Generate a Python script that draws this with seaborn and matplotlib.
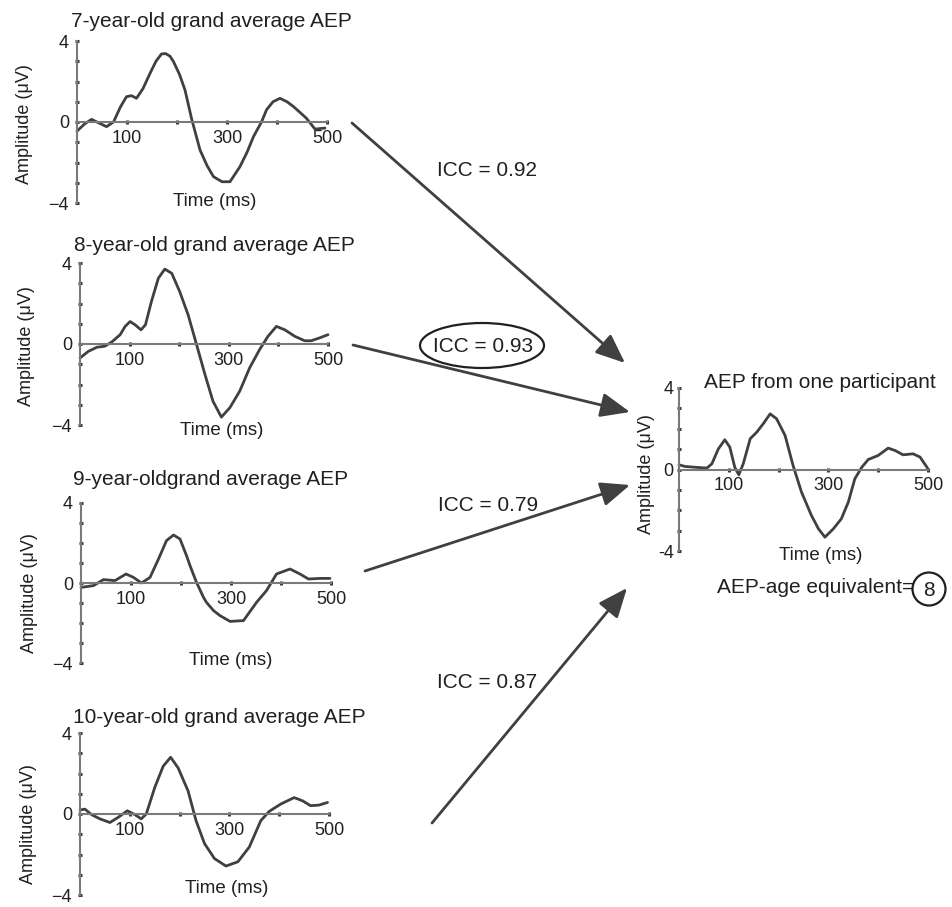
import numpy as np
import pandas as pd
import matplotlib
matplotlib.use("Agg")
import matplotlib.pyplot as plt
import seaborn as sns
from matplotlib.patches import FancyArrowPatch, Ellipse, ArrowStyle

# ---------------- data ----------------
t7 = [0, 15, 29, 44, 59, 73, 87, 99, 109, 119, 132, 146, 158, 169, 177, 186, 193, 205, 216, 229, 246, 260, 273, 290, 306, 326, 340, 353, 369, 379, 392, 406, 420, 433, 447, 459, 476, 496]
v7 = [-0.45, -0.1, 0.13, -0.05, -0.23, 0.0, 0.75, 1.25, 1.3, 1.17, 1.65, 2.4, 3.0, 3.36, 3.38, 3.25, 2.98, 2.35, 1.58, 0.18, -1.38, -2.15, -2.7, -2.95, -2.95, -2.2, -1.5, -0.72, 0.0, 0.6, 1.0, 1.17, 1.0, 0.76, 0.45, 0.18, -0.35, -0.3]

t8 = [0, 17, 34, 50, 64, 81, 91, 101, 111, 123, 132, 144, 158, 171, 185, 201, 218, 235, 252, 268, 285, 302, 322, 342, 362, 379, 396, 413, 433, 453, 466, 483, 500]
v8 = [-0.69, -0.36, -0.16, -0.11, 0.1, 0.46, 0.87, 1.11, 0.95, 0.7, 0.95, 2.1, 3.25, 3.7, 3.49, 2.59, 1.44, -0.03, -1.51, -2.82, -3.61, -3.15, -2.33, -1.18, -0.28, 0.38, 0.87, 0.7, 0.38, 0.16, 0.16, 0.3, 0.46]

t9 = [0, 25, 45, 68, 90, 105, 121, 138, 155, 171, 185, 198, 211, 218, 231, 245, 251, 265, 278, 298, 325, 351, 371, 391, 418, 438, 455, 478, 498]
v9 = [-0.22, -0.13, 0.17, 0.12, 0.45, 0.28, 0.0, 0.28, 1.2, 2.12, 2.4, 2.2, 1.37, 0.87, 0.03, -0.72, -0.97, -1.38, -1.63, -1.92, -1.88, -0.97, -0.38, 0.45, 0.7, 0.45, 0.2, 0.23, 0.23]

t10 = [0, 10, 23, 40, 60, 77, 95, 110, 123, 133, 150, 167, 182, 197, 217, 233, 250, 270, 293, 317, 340, 363, 380, 403, 430, 447, 463, 480, 497]
v10 = [0.2, 0.24, -0.03, -0.24, -0.42, -0.16, 0.16, -0.03, -0.24, 0.0, 1.3, 2.36, 2.8, 2.28, 1.14, -0.33, -1.46, -2.2, -2.57, -2.36, -1.63, -0.33, 0.13, 0.49, 0.81, 0.65, 0.41, 0.44, 0.57]

tp = [0, 12, 32, 56, 66, 79, 92, 102, 112, 120, 129, 143, 156, 169, 183, 196, 213, 229, 246, 266, 280, 293, 310, 326, 340, 353, 367, 380, 400, 420, 434, 450, 470, 484, 499]
vp = [0.23, 0.15, 0.11, 0.07, 0.28, 1.01, 1.46, 1.1, 0.11, -0.26, 0.28, 1.51, 1.83, 2.24, 2.73, 2.49, 1.67, 0.2, -1.11, -2.26, -2.91, -3.32, -2.91, -2.42, -1.6, -0.46, 0.11, 0.49, 0.69, 1.05, 0.93, 0.72, 0.77, 0.61, 0.07]

titles = ["7-year-old grand average AEP", "8-year-old grand average AEP",
          "9-year-oldgrand average AEP", "10-year-old grand average AEP",
          "AEP from one participant"]
icc_labels = ["ICC = 0.92", "ICC = 0.93", "ICC = 0.79", "ICC = 0.87"]
age_label = "AEP-age equivalent="
age_value = "8"
x_ticks = [100, 200, 300, 400, 500]
x_ticklabels = ["100", "", "300", "", "500"]
y_ticks = [-4, -3, -2, -1, 0, 1, 2, 3, 4]
y_ticklabels_left = ["\u22124", "", "", "", "0", "", "", "", "4"]
y_ticklabels_right = ["-4", "", "", "", "0", "", "", "", "4"]

frames = []
for key, t, v in [("7", t7, v7), ("8", t8, v8), ("9", t9, v9), ("10", t10, v10), ("P", tp, vp)]:
    frames.append(pd.DataFrame({"panel": key, "time": t, "amp": v}))
df = pd.concat(frames, ignore_index=True)

# ---------------- style ----------------
sns.set_style("white")
plt.rcParams['font.family'] = ['Liberation Sans', 'DejaVu Sans']
TXT = '#231f20'
LINE = '#404040'
AXC = '#7a7a7a'

W, H = 952, 907
fig = plt.figure(figsize=(W / 100, H / 100), dpi=100)


def box(l, t, r, b):
    return [l / W, 1 - b / H, (r - l) / W, (b - t) / H]


layout = [
    ("7", box(77, 41, 327, 203), (0.536, 1.086), (0.55, 0.062), (-0.176, 0.49), y_ticklabels_left, 0),
    ("8", box(80, 263, 328, 425), (0.544, 1.076), (0.57, 0.02), (-0.18, 0.49), y_ticklabels_left, 1),
    ("9", box(81, 503, 331, 663), (0.52, 1.1125), (0.6, 0.07), (-0.172, 0.44), y_ticklabels_left, 2),
    ("10", box(80, 733, 329, 895), (0.56, 1.06), (0.59, 0.09), (-0.173, 0.44), y_ticklabels_left, 3),
    ("P", box(679, 388, 928, 551), (0.564, 1.0), (0.57, 0.025), (-0.096, 0.47), y_ticklabels_right, 4),
]

for key, rect, tpos, xlpos, ylpos, ylabels, ti in layout:
    ax = fig.add_axes(rect)
    ax.patch.set_alpha(0)
    sub = df[df["panel"] == key]
    sns.lineplot(data=sub, x="time", y="amp", ax=ax, color=LINE, linewidth=2.0,
                 sort=False, estimator=None, clip_on=False,
                 solid_joinstyle="round", solid_capstyle="round")
    ax.set_xlim(0, 500)
    ax.set_ylim(-4, 4)
    for s in ("top", "right"):
        ax.spines[s].set_visible(False)
    ax.spines["bottom"].set_position(("data", 0))
    for s in ("bottom", "left"):
        ax.spines[s].set_color(AXC)
        ax.spines[s].set_linewidth(1.5)
    ax.set_xticks(x_ticks)
    ax.set_xticklabels(x_ticklabels)
    ax.set_yticks(y_ticks)
    ax.set_yticklabels(ylabels)
    ax.tick_params(bottom=True, left=True, direction="inout", length=3.5, width=2.2,
                   color="#3a3a3a", labelsize=13, labelcolor=TXT, pad=4)
    if key == "P":
        ax.tick_params(axis="y", pad=2)
    ax.set_xlabel("Time (ms)", fontsize=13.5, color=TXT)
    ax.xaxis.set_label_coords(*xlpos)
    ax.set_ylabel("Amplitude (\u03bcV)", fontsize=13, color=TXT)
    ax.yaxis.set_label_coords(*ylpos)
    ax.text(tpos[0], tpos[1], titles[ti], transform=ax.transAxes, ha="center",
            va="baseline", fontsize=15, color=TXT)


def fp(x, y):
    return (x / W, 1 - y / H)


arrows = [((352, 123), (625, 363)), ((353, 345), (630, 412)),
          ((365, 571), (630, 485)), ((432, 823), (627, 588))]
style = ArrowStyle("-|>", head_length=1.8, head_width=0.75)
for a, b in arrows:
    arr = FancyArrowPatch(fp(*a), fp(*b), transform=fig.transFigure, arrowstyle=style,
                          mutation_scale=10, color=LINE, linewidth=2.0,
                          shrinkA=0, shrinkB=0)
    fig.add_artist(arr)

icc_pos = [(487.5, 170), (483, 347), (488.5, 505), (487, 683)]
for lab, (x, y) in zip(icc_labels, icc_pos):
    fig.text(*fp(x, y), lab, ha="center", va="center", fontsize=15, color=TXT)

fig.add_artist(Ellipse(fp(482, 345.5), 124 / W, 45 / H, transform=fig.transFigure,
                       fill=False, ec=TXT, lw=1.6))

fig.text(*fp(717, 593), age_label, ha="left", va="baseline", fontsize=15, color=TXT)
fig.text(*fp(929, 590), age_value, ha="center", va="center", fontsize=15, color=TXT)
fig.add_artist(Ellipse(fp(929, 589), 33 / W, 33 / H, transform=fig.transFigure,
                       fill=False, ec=TXT, lw=1.6))

fig.savefig("out.png", dpi=100, facecolor="white")
